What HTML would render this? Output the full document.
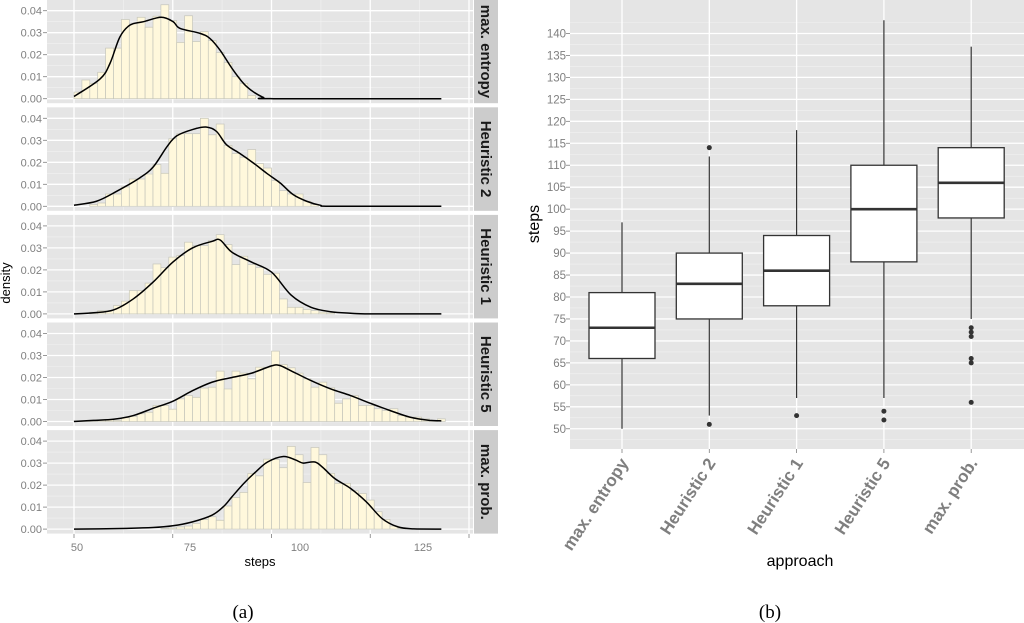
<!DOCTYPE html>
<html><head><meta charset="utf-8">
<style>
html,body{margin:0;padding:0;background:#fff;}
svg{display:block;font-family:"Liberation Sans",sans-serif;}
</style></head>
<body>
<svg id="fig" width="1024" height="623" viewBox="0 0 1024 623" xmlns="http://www.w3.org/2000/svg">
<g id="left"></g>
<g id="right"></g>
<text x="10" y="283" font-size="13" text-anchor="middle" transform="rotate(-90 10 283)" fill="#000">density</text>
<text x="260" y="566" font-size="13" text-anchor="middle" fill="#000">steps</text>
<text x="243" y="618" font-size="19" text-anchor="middle" font-family="Liberation Serif, serif">(a)</text>
<text x="539" y="224" font-size="16" text-anchor="middle" transform="rotate(-90 539 224)" fill="#000">steps</text>
<text x="800" y="566" font-size="16" text-anchor="middle" fill="#000">approach</text>
<text x="770" y="618" font-size="19" text-anchor="middle" font-family="Liberation Serif, serif">(b)</text>
</svg>
<script>
// ---------- Left chart data ----------
const facetNames = ["max. entropy","Heuristic 2","Heuristic 1","Heuristic 5","max. prob."];
const binWidth = 2;
const binStarts = [50,54,54,50,72];
const dens1 = [.003,.0085,.007,.012,.023,.023,.036,.034,.037,.0325,.0375,.0427,.0355,.0256,.0377,.026,.0305,.0264,.021,.0165,.010,.007,.0015];
const dens2 = [.0008,.0015,.0056,.0056,.0088,.0124,.0124,.0147,.019,.015,.0307,.033,.033,.033,.040,.0325,.0374,.0277,.024,.0223,.0258,.0194,.0174,.0117,.0071,.0056,.0056,.0023,.0008];
const dens3 = [.0008,.0015,.0015,.0038,.0058,.0106,.0106,.014,.0227,.021,.0258,.0265,.0326,.031,.031,.0333,.036,.0315,.0224,.0262,.0224,.021,.018,.0185,.0068,.003,.003,.002,.0015,.0008,.0005];
const dens4 = [.0003,.0003,.0003,.0008,.001,.0005,.0017,.0023,.0035,.0042,.0073,.0073,.0056,.0103,.0118,.011,.0152,.0156,.0229,.0148,.0229,.022,.0194,.0247,.0247,.032,.0259,.0244,.022,.0194,.0156,.0179,.0153,.0083,.0103,.0118,.0073,.0073,.0058,.005,.0058,.0027,.002,.002,.0012,.0005,.0012];
const dens5 = [.0003,.0005,.001,.0014,.0026,.0044,.0056,.004,.0105,.0144,.0167,.0253,.0242,.0318,.0317,.0279,.0376,.0338,.0212,.0371,.0338,.0253,.0208,.0208,.0174,.0162,.0132,.0079,.0044,.0014,.0003];
const curveSteps1 = [50,56.6,59.1,61.6,64.2,67.6,72.1,75.1,76.8,81.9,84.4,87,90.3,93.7,97.9,100.5,143];
const curveDens1  = [.001,.009,.016,.028,.0335,.035,.037,.035,.032,.0297,.0274,.022,.013,.0055,.0006,0,0];
const curveSteps2 = [50,55.7,60.8,66.7,70.1,73.5,76,80.2,83.6,86.1,88.6,92,95.4,98.8,102.2,105.5,108.9,112.3,115.7,143];
const curveDens2  = [.0005,.0023,.0068,.013,.018,.027,.032,.035,.036,.034,.028,.024,.0197,.015,.0106,.0053,.0023,.0005,0,0];
const curveSteps3 = [50,55,60,65,70,75,80,85,87,90,95,100,105,110,115,120,125,143];
const curveDens3  = [0,.0005,.0018,.0068,.0144,.0235,.030,.033,.0336,.028,.0235,.019,.0085,.003,.001,.0003,0,0];
const curveSteps4 = [50,55,60,65,70,75,80,85,90,95,100,102,105,110,115,120,125,130,135,140,143];
const curveDens4  = [0,.0005,.001,.0027,.006,.0092,.014,.0179,.020,.022,.0253,.0255,.023,.0186,.0148,.0118,.0083,.005,.002,.0005,.0003];
const curveSteps5 = [50,60,70,75,80,85,88,90,93,96,99,103,106,108,111,113,116,120,124,128,132,136,143];
const curveDens5  = [0,.0002,.0007,.0015,.0033,.0064,.0105,.0147,.0208,.026,.0305,.033,.0315,.030,.0305,.028,.023,.0185,.0124,.0048,.001,.0001,0];
const yTickVals = [0,0.01,0.02,0.03,0.04];
const yTickLabels = ["0.00","0.01","0.02","0.03","0.04"];
const xTickVals = [50,75,100,125,150];
const xTickLabels = ["50","75","100","125",""];

// ---------- Right chart data ----------
const approaches = ["max. entropy","Heuristic 2","Heuristic 1","Heuristic 5","max. prob."];
const whiskLo = [50,53,57,57,75];
const q1 = [66,75,78,88,98];
const med = [73,83,86,100,106];
const q3 = [81,90,94,110,114];
const whiskHi = [97,112,118,143,137];
const outliers = [[],[51,114],[53],[52,54],[56,65,66,71,72,73]];
const boxYTicks = [50,55,60,65,70,75,80,85,90,95,100,105,110,115,120,125,130,135,140];

const NS = "http://www.w3.org/2000/svg";
function mk(tag, attrs, parent){
  const e = document.createElementNS(NS, tag);
  for (const k in attrs) e.setAttribute(k, attrs[k]);
  parent.appendChild(e);
  return e;
}
function smoothPath(pts){
  let d = "M"+pts[0][0].toFixed(2)+","+pts[0][1].toFixed(2);
  for (let i=0;i<pts.length-1;i++){
    const p0 = pts[Math.max(0,i-1)], p1 = pts[i], p2 = pts[i+1], p3 = pts[Math.min(pts.length-1,i+2)];
    let c1y = p1[1]+(p2[1]-p0[1])/6, c2y = p2[1]-(p3[1]-p1[1])/6;
    const base = Math.max(p1[1],p2[1]);
    c1y = Math.min(c1y, base+0.001); c2y = Math.min(c2y, base+0.001);
    d += " C"+(p1[0]+(p2[0]-p0[0])/6).toFixed(2)+","+c1y.toFixed(2)+" "+(p2[0]-(p3[0]-p1[0])/6).toFixed(2)+","+c2y.toFixed(2)+" "+p2[0].toFixed(2)+","+p2[1].toFixed(2);
  }
  return d;
}

// ---------- Left chart ----------
(function(){
  const g = document.getElementById("left");
  const PL = 47, PR = 473;
  const xS = v => 74 + (v-50)*3.95;
  const dens = [dens1,dens2,dens3,dens4,dens5];
  const cs = [curveSteps1,curveSteps2,curveSteps3,curveSteps4,curveSteps5];
  const cd = [curveDens1,curveDens2,curveDens3,curveDens4,curveDens5];
  for (let f=0; f<5; f++){
    const zero = 98.7 + 107.6*f;
    const top = zero - 99, bot = zero + 4.5;
    const yS = v => zero - v*2200;
    const fg = mk("g", {}, g);
    
    
    const bg = mk("rect", {x:PL, y:top, width:PR-PL, height:bot-top, fill:"#e5e5e5"}, fg);
    
    
    for (let v=0.005; v<0.045; v+=0.01){
      const l = mk("line", {x1:PL,x2:PR,y1:yS(v),y2:yS(v),stroke:"#f2f2f2","stroke-width":0.6}, fg);
      
      
    }
    for (let v=62.5; v<150; v+=25){
      const l = mk("line", {x1:xS(v),x2:xS(v),y1:top,y2:bot,stroke:"#f2f2f2","stroke-width":0.6}, fg);
      
      
    }
    yTickVals.forEach((v,i)=>{
      const l = mk("line", {x1:PL,x2:PR,y1:yS(v),y2:yS(v),stroke:"#fff","stroke-width":1.3}, fg);
      
      
      const t = mk("line", {x1:43,x2:47,y1:yS(v),y2:yS(v),stroke:"#7f7f7f","stroke-width":0.8}, fg);
      
      
      const tx = mk("text", {x:42, y:yS(v)+4, "font-size":11, fill:"#7f7f7f","text-anchor":"end"}, fg);
      tx.textContent = yTickLabels[i];
      
      
    });
    xTickVals.forEach(v=>{
      const l = mk("line", {x1:xS(v),x2:xS(v),y1:top,y2:bot,stroke:"#fff","stroke-width":1.3}, fg);
      
      
    });
    dens[f].forEach((d,i)=>{
      const s = binStarts[f] + i*binWidth;
      const r = mk("rect", {x:xS(s), y:yS(d), width:xS(s+binWidth)-xS(s), height:zero-yS(d), fill:"#fff8dc", stroke:"#c6c6bb","stroke-width":0.7}, fg);
      
      
    });
    const pts = cs[f].map((s,i)=>[xS(s), yS(cd[f][i])]);
    const p = mk("path", {d:smoothPath(pts), fill:"none", stroke:"#000","stroke-width":1.5}, fg);
    
    
    const st = mk("rect", {x:474, y:top, width:24, height:bot-top, fill:"#cccccc"}, fg);
    
    
    const cy = (top+bot)/2;
    const stt = mk("text", {x:481, y:cy, "font-size":15, "font-weight":"bold", fill:"#1a1a1a","text-anchor":"middle", transform:"rotate(90 481 "+cy+")"}, fg);
    stt.textContent = facetNames[f];
    
    
  }
  const labelX = [77,190,300,423];
  xTickVals.forEach((v,i)=>{
    const t = mk("line", {x1:xS(v),x2:xS(v),y1:534,y2:538,stroke:"#7f7f7f","stroke-width":0.8}, g);
    
    
    if (xTickLabels[i]){
      const tx = mk("text", {x:labelX[i], y:551, "font-size":11, fill:"#7f7f7f","text-anchor":"middle"}, g);
      tx.textContent = xTickLabels[i];
      
      
    }
  });
})();

// ---------- Right chart ----------
(function(){
  const g = document.getElementById("right");
  const PL = 570, PR = 1024, PT = 0, PB = 449;
  const yS = v => 297 - (v-80)*4.392;
  const xS = i => 622 + i*87.3;
  const bg = mk("rect", {x:PL,y:PT,width:PR-PL,height:PB-PT,fill:"#e5e5e5"}, g);
  
  
  boxYTicks.forEach(v=>{
    const m = mk("line", {x1:PL,x2:PR,y1:yS(v+2.5),y2:yS(v+2.5),stroke:"#f2f2f2","stroke-width":0.6}, g);
    
    
  });
  const mm = mk("line", {x1:PL,x2:PR,y1:yS(47.5),y2:yS(47.5),stroke:"#f2f2f2","stroke-width":0.6}, g);
  
  
  boxYTicks.forEach(v=>{
    const l = mk("line", {x1:PL,x2:PR,y1:yS(v),y2:yS(v),stroke:"#fff","stroke-width":1.3}, g);
    
    
    const t = mk("line", {x1:566,x2:570,y1:yS(v),y2:yS(v),stroke:"#7f7f7f","stroke-width":0.8}, g);
    
    
    const tx = mk("text", {x:566, y:yS(v)+4, "font-size":11.5, fill:"#7f7f7f","text-anchor":"end"}, g);
    tx.textContent = String(v);
    
    
  });
  approaches.forEach((a,i)=>{
    const x = xS(i);
    const gl = mk("line", {x1:x,x2:x,y1:PT,y2:PB,stroke:"#fff","stroke-width":1.3}, g);
    
    
    const bg2 = mk("g", {}, g);
    
    
    const w1 = mk("line", {x1:x,x2:x,y1:yS(whiskHi[i]),y2:yS(q3[i]),stroke:"#333","stroke-width":1.2}, bg2);
    
    
    const w2 = mk("line", {x1:x,x2:x,y1:yS(q1[i]),y2:yS(whiskLo[i]),stroke:"#333","stroke-width":1.2}, bg2);
    
    
    const r = mk("rect", {x:x-33,y:yS(q3[i]),width:66,height:yS(q1[i])-yS(q3[i]),fill:"#fff",stroke:"#333","stroke-width":1.3}, bg2);
    
    
    const md = mk("line", {x1:x-33,x2:x+33,y1:yS(med[i]),y2:yS(med[i]),stroke:"#333","stroke-width":2.6}, bg2);
    
    
    outliers[i].forEach(o=>{
      const c = mk("circle", {cx:x, cy:yS(o), r:2.5, fill:"#333"}, bg2);
      
      
    });
    const t = mk("line", {x1:x,x2:x,y1:449,y2:453,stroke:"#7f7f7f","stroke-width":0.8}, g);
    
    
    const tx = mk("text", {x:x+7, y:463, "font-size":17, "font-weight":"bold", fill:"#7f7f7f","text-anchor":"end", transform:"rotate(-57 "+(x+7)+" 463)"}, g);
    tx.textContent = a;
    
    
  });
})();
</script>
</body></html>
